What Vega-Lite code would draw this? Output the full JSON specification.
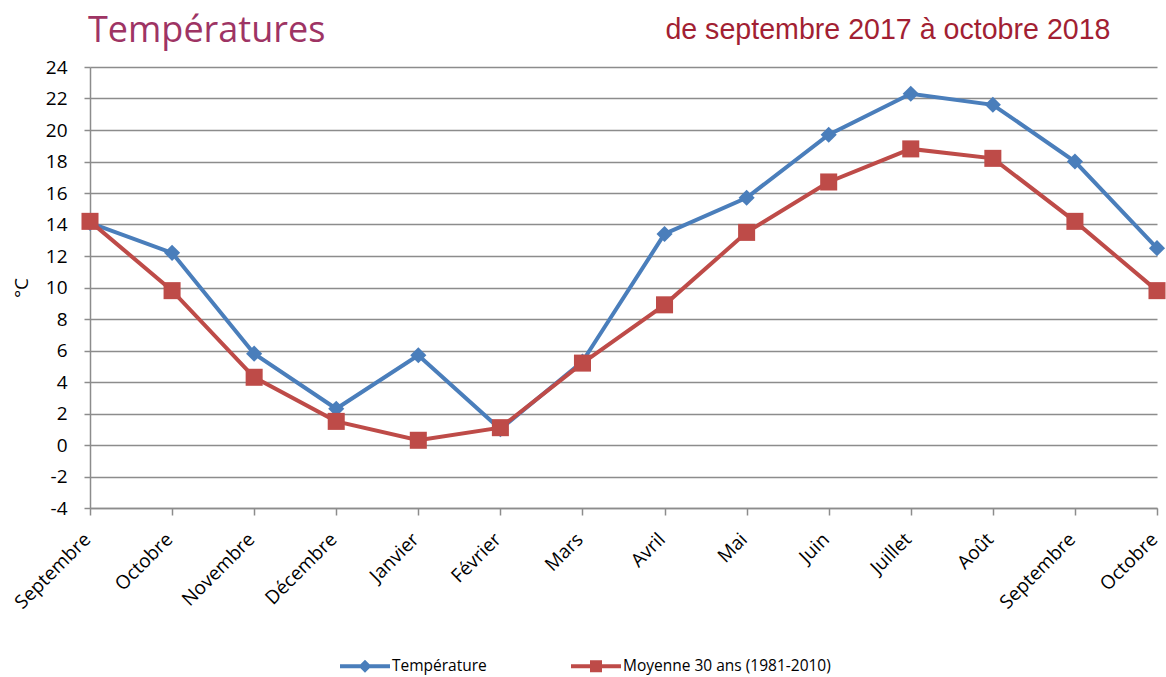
{
  "$schema": "https://vega.github.io/schema/vega-lite/v6.json",
  "width": 1067,
  "height": 441,
  "autosize": "none",
  "padding": {"left": 90, "top": 67, "right": 9, "bottom": 169},
  "background": "white",
  "title": {
    "text": "Températures",
    "anchor": "start",
    "frame": "group",
    "font": "Open Sans",
    "fontSize": 36,
    "fontWeight": "normal",
    "color": "#9E3464",
    "baseline": "alphabetic",
    "offset": 0,
    "dx": -2,
    "dy": 63
  },
  "config": {
    "view": {"stroke": null},
    "axis": {
      "labelFont": "Open Sans",
      "titleFont": "Open Sans",
      "labelColor": "black",
      "titleColor": "black",
      "domainColor": "#8c8c8c",
      "tickColor": "#8c8c8c",
      "gridColor": "#8c8c8c",
      "domainWidth": 1.5,
      "tickWidth": 1.5,
      "gridWidth": 1.3
    }
  },
  "data": {
    "values": [
      {"i": 0, "serie": "Température", "t": 14.1},
      {"i": 1, "serie": "Température", "t": 12.2},
      {"i": 2, "serie": "Température", "t": 5.8},
      {"i": 3, "serie": "Température", "t": 2.3},
      {"i": 4, "serie": "Température", "t": 5.7},
      {"i": 5, "serie": "Température", "t": 1.0},
      {"i": 6, "serie": "Température", "t": 5.3},
      {"i": 7, "serie": "Température", "t": 13.4},
      {"i": 8, "serie": "Température", "t": 15.7},
      {"i": 9, "serie": "Température", "t": 19.7},
      {"i": 10, "serie": "Température", "t": 22.3},
      {"i": 11, "serie": "Température", "t": 21.6},
      {"i": 12, "serie": "Température", "t": 18.0},
      {"i": 13, "serie": "Température", "t": 12.5},
      {"i": 0, "serie": "Moyenne 30 ans (1981-2010)", "t": 14.2},
      {"i": 1, "serie": "Moyenne 30 ans (1981-2010)", "t": 9.8},
      {"i": 2, "serie": "Moyenne 30 ans (1981-2010)", "t": 4.3},
      {"i": 3, "serie": "Moyenne 30 ans (1981-2010)", "t": 1.5},
      {"i": 4, "serie": "Moyenne 30 ans (1981-2010)", "t": 0.3},
      {"i": 5, "serie": "Moyenne 30 ans (1981-2010)", "t": 1.1},
      {"i": 6, "serie": "Moyenne 30 ans (1981-2010)", "t": 5.2},
      {"i": 7, "serie": "Moyenne 30 ans (1981-2010)", "t": 8.9},
      {"i": 8, "serie": "Moyenne 30 ans (1981-2010)", "t": 13.5},
      {"i": 9, "serie": "Moyenne 30 ans (1981-2010)", "t": 16.7},
      {"i": 10, "serie": "Moyenne 30 ans (1981-2010)", "t": 18.8},
      {"i": 11, "serie": "Moyenne 30 ans (1981-2010)", "t": 18.2},
      {"i": 12, "serie": "Moyenne 30 ans (1981-2010)", "t": 14.2},
      {"i": 13, "serie": "Moyenne 30 ans (1981-2010)", "t": 9.8}
    ]
  },
  "encoding": {
    "y": {
      "field": "t",
      "type": "quantitative",
      "scale": {"domain": [-4, 24], "nice": false},
      "axis": {
        "values": [-4, -2, 0, 2, 4, 6, 8, 10, 12, 14, 16, 18, 20, 22, 24],
        "labelExpr": "datum.value + ''",
        "title": "°C",
        "titleFontSize": 19,
        "titleFontWeight": "normal",
        "titlePadding": 14,
        "labelFontSize": 19,
        "labelPadding": 17,
        "tickSize": 6,
        "grid": true
      }
    },
    "color": {
      "field": "serie",
      "type": "nominal",
      "scale": {
        "domain": ["Température", "Moyenne 30 ans (1981-2010)"],
        "range": ["#4A7EBB", "#BE4B48"]
      },
      "legend": {
        "title": null,
        "orient": "none",
        "legendX": 250,
        "legendY": 574,
        "direction": "horizontal",
        "symbolSize": 2500,
        "columnPadding": 84,
        "labelFont": "Open Sans",
        "labelFontSize": 15.5,
        "labelLimit": 400,
        "labelColor": "black",
        "labelOffset": 2,
        "encode": {
          "symbols": {
            "update": {
              "shape": {"signal": "datum.value === 'Température' ? 'M-1,-0.08L1,-0.08L1,0.08L-1,0.08Z M0,-0.26L0.26,0L0,0.26L-0.26,0Z' : 'M-1,-0.08L1,-0.08L1,0.08L-1,0.08Z M-0.24,-0.24L0.24,-0.24L0.24,0.24L-0.24,0.24Z'"},
              "fill": {"signal": "scale('color', datum.value)"},
              "strokeWidth": {"value": 0},
              "opacity": {"value": 1}
            }
          }
        }
      }
    }
  },
  "layer": [
    {
      "mark": {"type": "line", "strokeWidth": 4},
      "encoding": {
        "x": {
          "field": "i",
          "type": "quantitative",
          "scale": {"domain": [0, 13], "nice": false},
          "axis": {
            "values": [0, 1, 2, 3, 4, 5, 6, 7, 8, 9, 10, 11, 12, 13],
            "labelExpr": "['Septembre','Octobre','Novembre','Décembre','Janvier','Février','Mars','Avril','Mai','Juin','Juillet','Août','Septembre','Octobre'][datum.value]",
            "labelAngle": -45,
            "labelAlign": "right",
            "labelBaseline": "middle",
            "labelOverlap": false,
            "labelFontSize": 19,
            "labelPadding": 21,
            "labelOffset": -3,
            "tickSize": 7,
            "grid": false,
            "title": null
          }
        }
      }
    },
    {
      "transform": [{"filter": "datum.serie === 'Température'"}],
      "mark": {"type": "point", "filled": true, "opacity": 1, "shape": "diamond", "size": 260},
      "encoding": {
        "x": {
          "field": "i",
          "type": "quantitative",
          "scale": {"domain": [0, 13], "nice": false},
          "axis": {
            "orient": "top",
            "labels": false,
            "ticks": false,
            "domain": false,
            "grid": false,
            "title": "de septembre 2017 à octobre 2018",
            "titleX": 1020,
            "titleY": -29,
            "titleAlign": "right",
            "titleAnchor": null,
            "titleBaseline": "alphabetic",
            "titleFont": "Liberation Sans",
            "titleFontSize": 28.6,
            "titleFontWeight": "normal",
            "titleColor": "#A21F33"
          }
        }
      }
    },
    {
      "transform": [{"filter": "datum.serie !== 'Température'"}],
      "mark": {"type": "point", "filled": true, "opacity": 1, "shape": "square", "size": 290},
      "encoding": {
        "x": {
          "field": "i",
          "type": "quantitative",
          "scale": {"domain": [0, 13], "nice": false},
          "axis": null
        }
      }
    }
  ],
  "resolve": {"axis": {"x": "independent"}}
}
